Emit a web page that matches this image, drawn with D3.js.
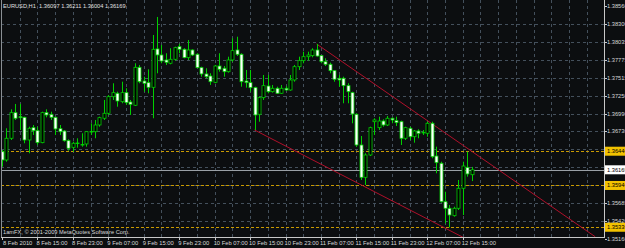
<!DOCTYPE html>
<html>
<head>
<meta charset="utf-8">
<script src="https://cdnjs.cloudflare.com/ajax/libs/d3/7.8.5/d3.min.js"></script>
<style>
  html, body { margin: 0; padding: 0; background: #0c0e10; overflow: hidden; }
  svg { display: block; }
</style>
</head>
<body>
<div id="chart"></div>
<script>
'use strict'

// CHART DATA (EURUSD H1, 8 Feb 2010 07:00 -> 12 Feb 2010 17:00)
var symbol = 'EURUSD,H1';

var opens = [1.36433, 1.36312, 1.36629, 1.37003, 1.36944, 1.36935, 1.36604, 1.36784, 1.36740, 1.36565,
  1.37003, 1.36979, 1.36935, 1.36769, 1.36735, 1.36594, 1.36497, 1.36553, 1.36531, 1.36546,
  1.36725, 1.36725, 1.36823, 1.36921, 1.36994, 1.37236, 1.37286, 1.37163, 1.37295, 1.37159,
  1.37111, 1.37665, 1.37465, 1.37441, 1.37373, 1.37933, 1.37845, 1.37772, 1.37724, 1.37782,
  1.37966, 1.37928, 1.37806, 1.37918, 1.37855, 1.37660, 1.37568, 1.37538, 1.37446, 1.37684,
  1.37651, 1.37601, 1.37772, 1.37918, 1.37855, 1.37465, 1.37441, 1.37368, 1.36979, 1.37222,
  1.37392, 1.37309, 1.37359, 1.37286, 1.37359, 1.37334, 1.37480, 1.37674, 1.37762, 1.37820,
  1.37835, 1.37918, 1.37835, 1.37747, 1.37709, 1.37616, 1.37505, 1.37505, 1.37397, 1.37295,
  1.36979, 1.36531, 1.36059, 1.36385, 1.36871, 1.36784, 1.36881, 1.36823, 1.36921, 1.36886,
  1.36871, 1.36629, 1.36775, 1.36652, 1.36735, 1.36716, 1.36702, 1.36848, 1.36370, 1.36264,
  1.35703, 1.35607, 1.35499, 1.35607, 1.35899, 1.36205, 1.36097];

var highs = [1.36458, 1.36775, 1.37052, 1.37130, 1.37130, 1.36944, 1.36798, 1.36823, 1.36798, 1.37017,
  1.37052, 1.37017, 1.36944, 1.36823, 1.36750, 1.36614, 1.36579, 1.36629, 1.36702, 1.36735,
  1.36848, 1.36896, 1.36944, 1.37188, 1.37261, 1.37432, 1.37309, 1.37455, 1.37359, 1.37188,
  1.37724, 1.37699, 1.37528, 1.37636, 1.38137, 1.38400, 1.37991, 1.37870, 1.37943, 1.37966,
  1.38006, 1.37943, 1.38064, 1.37928, 1.37870, 1.37674, 1.37651, 1.37578, 1.37699, 1.37870,
  1.37684, 1.37820, 1.38089, 1.38112, 1.37870, 1.37626, 1.37626, 1.37382, 1.37236, 1.37553,
  1.37553, 1.37407, 1.37382, 1.37407, 1.37392, 1.37553, 1.37699, 1.37820, 1.37893, 1.37893,
  1.37943, 1.38006, 1.37845, 1.37797, 1.37733, 1.37626, 1.37553, 1.37528, 1.37432, 1.37309,
  1.36994, 1.36662, 1.36410, 1.36798, 1.36921, 1.36944, 1.36906, 1.36954, 1.36935, 1.36944,
  1.36886, 1.36798, 1.36798, 1.36750, 1.36760, 1.36750, 1.36871, 1.36871, 1.36506, 1.36287,
  1.35849, 1.35655, 1.35630, 1.36020, 1.36287, 1.36433, 1.36211];

var lows = [1.36214, 1.36287, 1.36604, 1.36896, 1.36750, 1.36556, 1.36410, 1.36677, 1.36531, 1.36556,
  1.36935, 1.36896, 1.36677, 1.36677, 1.36579, 1.36448, 1.36433, 1.36492, 1.36506, 1.36506,
  1.36677, 1.36629, 1.36798, 1.36896, 1.36969, 1.37188, 1.37090, 1.37140, 1.37115, 1.36969,
  1.37100, 1.37432, 1.37309, 1.37286, 1.36921, 1.37578, 1.37724, 1.37699, 1.37709, 1.37762,
  1.37870, 1.37797, 1.37772, 1.37830, 1.37651, 1.37528, 1.37505, 1.37407, 1.37432, 1.37601,
  1.37528, 1.37587, 1.37747, 1.37830, 1.37382, 1.37368, 1.37309, 1.36750, 1.36871, 1.37188,
  1.37286, 1.37295, 1.37276, 1.37276, 1.37324, 1.37324, 1.37455, 1.37626, 1.37724, 1.37762,
  1.37811, 1.37820, 1.37724, 1.37684, 1.37578, 1.37455, 1.37382, 1.37140, 1.37140, 1.36848,
  1.36506, 1.36020, 1.35947, 1.36370, 1.36677, 1.36750, 1.36798, 1.36808, 1.36848, 1.36808,
  1.36531, 1.36604, 1.36604, 1.36565, 1.36629, 1.36677, 1.36652, 1.36337, 1.36118, 1.35689,
  1.35388, 1.35329, 1.35484, 1.35582, 1.35509, 1.36068, 1.36004];

var closes = [1.36312, 1.36629, 1.37003, 1.36921, 1.36930, 1.36604, 1.36775, 1.36740, 1.36565, 1.37003,
  1.36969, 1.36935, 1.36765, 1.36725, 1.36594, 1.36483, 1.36556, 1.36560, 1.36538, 1.36725,
  1.36728, 1.36823, 1.36930, 1.36994, 1.37236, 1.37295, 1.37173, 1.37295, 1.37149, 1.37125,
  1.37665, 1.37455, 1.37432, 1.37373, 1.37928, 1.37845, 1.37757, 1.37738, 1.37782, 1.37952,
  1.37928, 1.37806, 1.37918, 1.37845, 1.37660, 1.37568, 1.37528, 1.37455, 1.37684, 1.37636,
  1.37601, 1.37772, 1.37908, 1.37855, 1.37455, 1.37441, 1.37368, 1.36969, 1.37222, 1.37397,
  1.37309, 1.37359, 1.37286, 1.37359, 1.37334, 1.37480, 1.37674, 1.37762, 1.37820, 1.37845,
  1.37918, 1.37830, 1.37747, 1.37709, 1.37616, 1.37490, 1.37480, 1.37397, 1.37309, 1.36984,
  1.36531, 1.36059, 1.36385, 1.36784, 1.36896, 1.36881, 1.36823, 1.36921, 1.36896, 1.36857,
  1.36629, 1.36784, 1.36652, 1.36735, 1.36702, 1.36711, 1.36848, 1.36360, 1.36273, 1.35703,
  1.35607, 1.35509, 1.35607, 1.35899, 1.36224, 1.36108, 1.36169];

// price scale labels (right side)
var priceTicks = [1.38560, 1.38300, 1.38035, 1.37775, 1.37515, 1.37250, 1.36990, 1.36730,
  1.36470, 1.36205, 1.35945, 1.35685, 1.35420, 1.35160];

// time labels, one every 8 bars
var timeLabels = ['8 Feb 2010', '8 Feb 15:00', '8 Feb 23:00', '9 Feb 07:00', '9 Feb 15:00',
  '9 Feb 23:00', '10 Feb 07:00', '10 Feb 15:00', '10 Feb 23:00', '11 Feb 07:00',
  '11 Feb 15:00', '11 Feb 23:00', '12 Feb 07:00', '12 Feb 15:00'];

// horizontal support / resistance lines
var hLines = [1.36440, 1.35940, 1.35330];

// trend lines: [bar, price] -> [bar, price]
var trendFrom = [[71, 1.38006], [57, 1.36750]];
var trendTo = [[133.9, 1.35192], [104.5, 1.35169]];

var copyright = '1amFX, \u00a9 2001-2009 MetaQuotes Software Corp.';

// DISPLAY SETTINGS
var WIDTH = 625;
var HEIGHT = 248;
var PLOT_LEFT = 1;
var PLOT_RIGHT = 604;
var PLOT_BOTTOM = 237;
var BAR_STEP = 4.43;
var BODY_W = 3;
var FONT = '"Liberation Sans", Arial, sans-serif';
var FONT_SIZE = '5.7px';
var AXIS_FONT_SIZE = '5.8px';
var CANDLE_GREEN = '#00d000';
var GRID_COLOR = '#44505c';
var LEVEL_COLOR = '#c99a00';
var LABEL_YELLOW = '#f2c200';
var TREND_COLOR = '#b0102a';

var bars = d3.range(opens.length).map(function (i) {
  return { i: i, o: opens[i], h: highs[i], l: lows[i], c: closes[i] };
});
var last = bars[bars.length - 1];

var x = d3.scaleLinear().domain([0, 1]).range([2, 2 + BAR_STEP]);
var y = d3.scaleLinear().domain([1.35160, 1.38560]).range([238.9, 6]);

// price boxes sit on top of the scale: labels under them are hidden
var boxValues = hLines.concat([last.c]);
function hiddenByBox(p) {
  return boxValues.some(function (b) { return Math.abs(y(p) - y(b)) < 6; });
}

// DRAW
var svg = d3.select('#chart').append('svg')
  .attr('width', WIDTH)
  .attr('height', HEIGHT)
  .style('background', '#0c0e10');

svg.append('defs').append('clipPath').attr('id', 'plot-clip')
  .append('rect')
  .attr('x', PLOT_LEFT).attr('y', 0)
  .attr('width', PLOT_RIGHT - PLOT_LEFT).attr('height', PLOT_BOTTOM);

var plot = svg.append('g').attr('clip-path', 'url(#plot-clip)');

// grid - horizontal at each price label
plot.selectAll('line.hgrid')
  .data(priceTicks.slice(1))
  .enter()
  .append('line')
  .attr('class', 'hgrid')
  .attr('x1', PLOT_LEFT).attr('x2', PLOT_RIGHT)
  .attr('y1', function (d) { return Math.round(y(d)) + 0.5; })
  .attr('y2', function (d) { return Math.round(y(d)) + 0.5; })
  .attr('stroke', GRID_COLOR)
  .attr('stroke-width', 1)
  .attr('stroke-dasharray', '3,3');

// grid - vertical every 4 bars
var vgrid = d3.range(4, 136, 4);
plot.selectAll('line.vgrid')
  .data(vgrid)
  .enter()
  .append('line')
  .attr('class', 'vgrid')
  .attr('x1', function (d) { return Math.round(x(d)) + 0.5; })
  .attr('x2', function (d) { return Math.round(x(d)) + 0.5; })
  .attr('y1', 0).attr('y2', PLOT_BOTTOM)
  .attr('stroke', GRID_COLOR)
  .attr('stroke-width', 1)
  .attr('stroke-dasharray', '3,3');

// horizontal level lines
plot.selectAll('line.level')
  .data(hLines)
  .enter()
  .append('line')
  .attr('class', 'level')
  .attr('x1', PLOT_LEFT).attr('x2', PLOT_RIGHT)
  .attr('y1', function (d) { return Math.round(y(d)) + 0.5; })
  .attr('y2', function (d) { return Math.round(y(d)) + 0.5; })
  .attr('stroke', LEVEL_COLOR)
  .attr('stroke-width', 1)
  .attr('stroke-dasharray', '3,2');

// bid line
plot.append('line')
  .attr('x1', PLOT_LEFT).attr('x2', PLOT_RIGHT)
  .attr('y1', Math.round(y(last.c)) + 0.5)
  .attr('y2', Math.round(y(last.c)) + 0.5)
  .attr('stroke', '#9aa0a6')
  .attr('stroke-width', 1);

// trend lines
plot.selectAll('line.trend')
  .data(d3.range(trendFrom.length))
  .enter()
  .append('line')
  .attr('class', 'trend')
  .attr('x1', function (k) { return x(trendFrom[k][0]); })
  .attr('y1', function (k) { return y(trendFrom[k][1]); })
  .attr('x2', function (k) { return x(trendTo[k][0]); })
  .attr('y2', function (k) { return y(trendTo[k][1]); })
  .attr('stroke', TREND_COLOR)
  .attr('stroke-width', 1);

// candles - wicks
plot.selectAll('line.wick')
  .data(bars)
  .enter()
  .append('line')
  .attr('class', 'wick')
  .attr('x1', function (d) { return Math.round(x(d.i)) + 0.5; })
  .attr('x2', function (d) { return Math.round(x(d.i)) + 0.5; })
  .attr('y1', function (d) { return y(d.h); })
  .attr('y2', function (d) { return y(d.l); })
  .attr('stroke', CANDLE_GREEN)
  .attr('stroke-width', 1);

// candles - bodies (bull = black, bear = white)
plot.selectAll('rect.body')
  .data(bars)
  .enter()
  .append('rect')
  .attr('class', 'body')
  .attr('x', function (d) { return Math.round(x(d.i)) + 0.5 - BODY_W / 2; })
  .attr('y', function (d) { return y(Math.max(d.o, d.c)); })
  .attr('width', BODY_W)
  .attr('height', function (d) { return Math.max(0.6, Math.abs(y(d.o) - y(d.c))); })
  .attr('fill', function (d) { return d.c >= d.o ? '#000000' : '#ffffff'; })
  .attr('stroke', CANDLE_GREEN)
  .attr('stroke-width', 0.8);

// frame
svg.append('line')
  .attr('x1', PLOT_LEFT + 0.5).attr('x2', PLOT_LEFT + 0.5)
  .attr('y1', 0).attr('y2', PLOT_BOTTOM)
  .attr('stroke', '#8a8f94');
svg.append('line')
  .attr('x1', PLOT_RIGHT + 0.5).attr('x2', PLOT_RIGHT + 0.5)
  .attr('y1', 0).attr('y2', PLOT_BOTTOM + 1)
  .attr('stroke', '#c8c8c8');
svg.append('line')
  .attr('x1', PLOT_LEFT).attr('x2', PLOT_RIGHT + 1)
  .attr('y1', PLOT_BOTTOM + 0.5).attr('y2', PLOT_BOTTOM + 0.5)
  .attr('stroke', '#c8c8c8');

// price axis ticks + labels
var yAxis = svg.append('g');
yAxis.selectAll('line')
  .data(priceTicks)
  .enter()
  .append('line')
  .attr('x1', PLOT_RIGHT + 1).attr('x2', PLOT_RIGHT + 3)
  .attr('y1', function (d) { return Math.round(y(d)) + 0.5; })
  .attr('y2', function (d) { return Math.round(y(d)) + 0.5; })
  .attr('stroke', '#c8c8c8');
yAxis.selectAll('text')
  .data(priceTicks.filter(function (p) { return !hiddenByBox(p); }))
  .enter()
  .append('text')
  .text(function (d) { return d.toFixed(5); })
  .attr('x', PLOT_RIGHT + 3)
  .attr('y', function (d) { return y(d) + 2; })
  .attr('font-family', FONT)
  .attr('font-size', FONT_SIZE)
  .attr('fill', '#d8d8d8');

// level labels (yellow) and bid label (white)
function priceBox(value, bg) {
  var g = svg.append('g');
  g.append('rect')
    .attr('x', PLOT_RIGHT + 1)
    .attr('y', y(value) - 4.5)
    .attr('width', WIDTH - PLOT_RIGHT)
    .attr('height', 9)
    .attr('fill', bg);
  g.append('text')
    .text(value.toFixed(5))
    .attr('x', PLOT_RIGHT + 3)
    .attr('y', y(value) + 2)
    .attr('font-family', FONT)
    .attr('font-size', FONT_SIZE)
    .attr('fill', '#000000');
}
hLines.forEach(function (v) { priceBox(v, LABEL_YELLOW); });
priceBox(last.c, '#ffffff');

// time axis
var xAxis = svg.append('g');
xAxis.selectAll('line')
  .data(timeLabels)
  .enter()
  .append('line')
  .attr('x1', function (d, k) { return Math.round(x(k * 8)) + 0.5; })
  .attr('x2', function (d, k) { return Math.round(x(k * 8)) + 0.5; })
  .attr('y1', PLOT_BOTTOM).attr('y2', PLOT_BOTTOM + 3)
  .attr('stroke', '#c8c8c8');
xAxis.selectAll('text')
  .data(timeLabels)
  .enter()
  .append('text')
  .text(function (d) { return d; })
  .attr('x', function (d, k) { return x(k * 8) + (k === 0 ? 1 : -1); })
  .attr('y', 245.3)
  .attr('font-family', FONT)
  .attr('font-size', AXIS_FONT_SIZE)
  .attr('fill', '#d8d8d8');

// title + copyright
svg.append('text')
  .text(symbol + '  ' + [last.o, last.h, last.l, last.c].map(function (v) { return v.toFixed(5); }).join(' '))
  .attr('x', 3)
  .attr('y', 8.3)
  .attr('font-family', FONT)
  .attr('font-size', FONT_SIZE)
  .attr('fill', '#e0e0e0')
  .style('white-space', 'pre');

svg.append('text')
  .text(copyright)
  .attr('x', 3)
  .attr('y', 234)
  .attr('font-family', FONT)
  .attr('font-size', FONT_SIZE)
  .attr('fill', '#d8d8d8');
</script>
</body>
</html>
